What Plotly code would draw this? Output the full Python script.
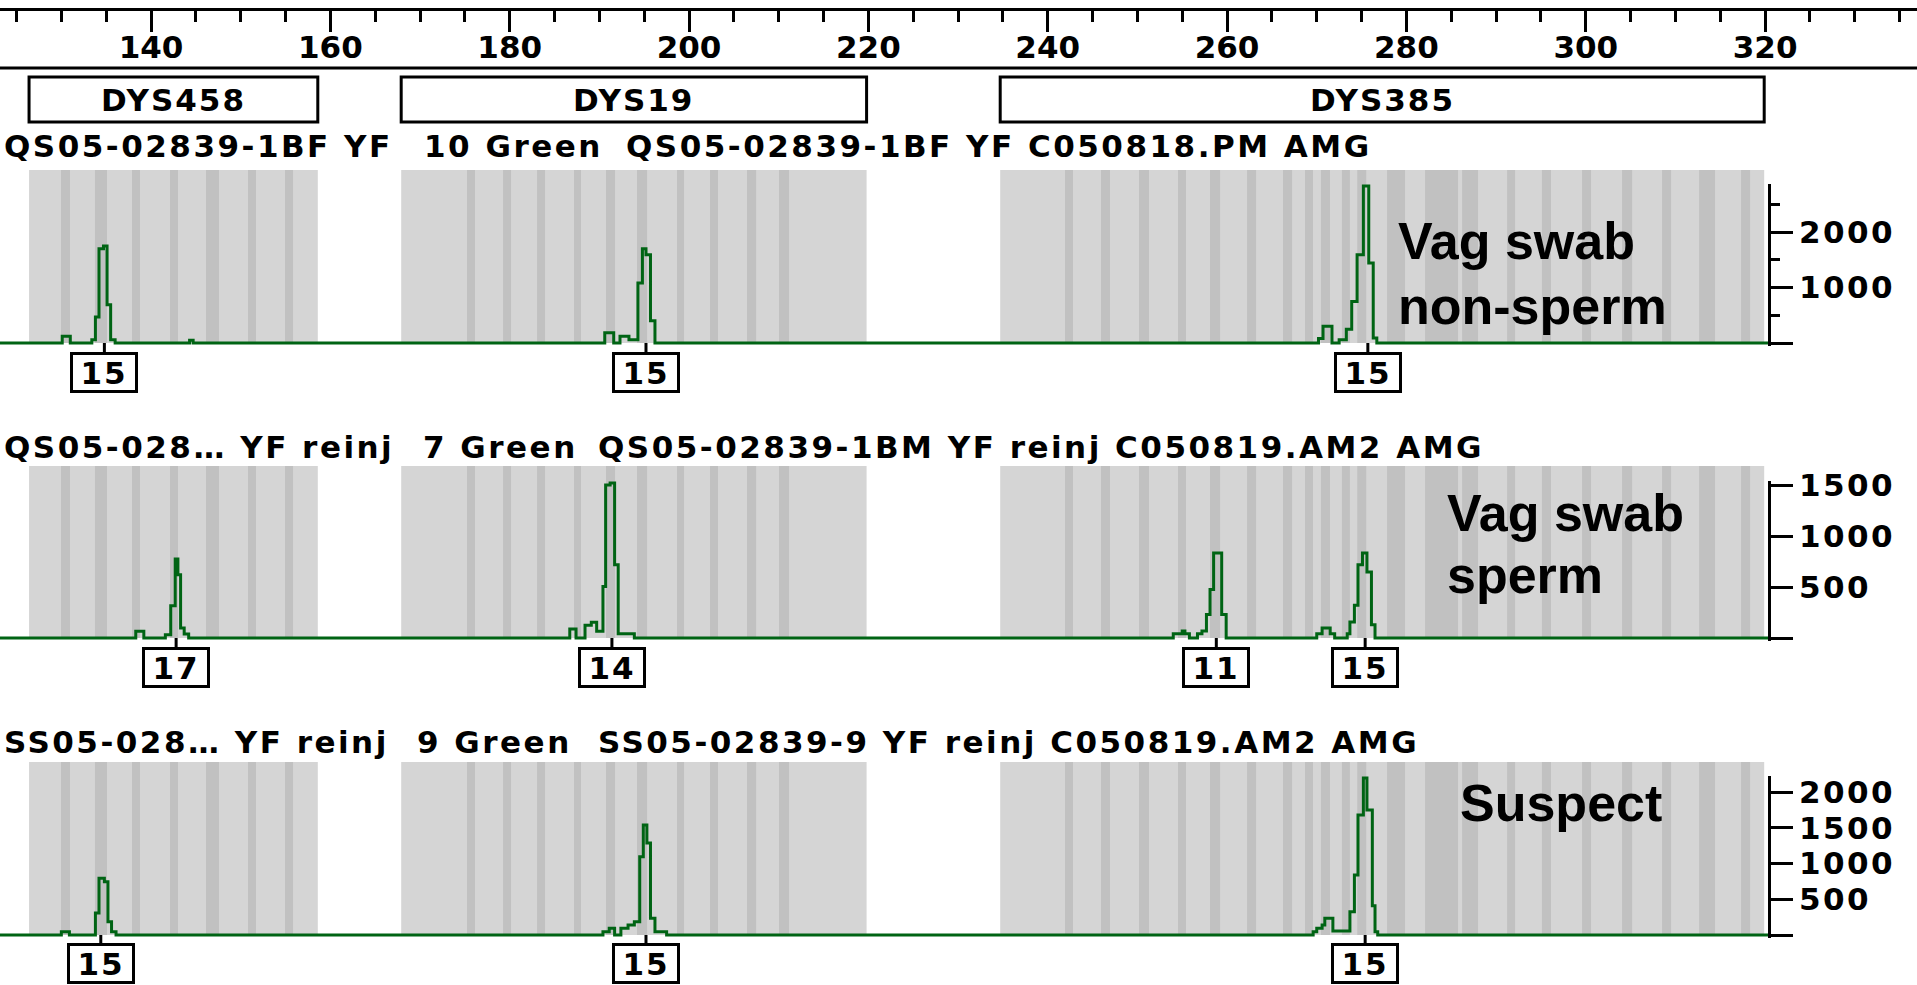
import plotly.graph_objects as go

W, H = 1917, 985

# ---------------- size scale (bp) ----------------
size_range = [123.16, 336.94]
size_major = 20
size_minor = 5
rfu_axis_bp = 320.4

# ---------------- loci ----------------
marker_names = ["DYS458", "DYS19", "DYS385"]
marker_from = [126.4, 167.9, 234.7]
marker_to = [158.6, 219.8, 319.9]

# allele bins (bp start, bp end)
bins_dys458 = [(129.96, 130.97), (133.75, 135.09), (137.88, 138.77), (142.12, 143.01),
               (146.13, 147.58), (150.82, 151.71), (154.94, 155.84)]
bins_dys19 = [(175.24, 176.13), (179.26, 180.15), (183.05, 183.94), (187.17, 187.95),
              (190.74, 191.75), (194.20, 195.32), (198.66, 199.44), (202.34, 203.23),
              (206.47, 207.48), (210.03, 211.15)]
bins_dys385 = [(241.93, 242.82), (245.94, 246.94), (250.18, 251.29), (254.53, 255.42),
               (258.10, 259.22), (262.23, 263.24), (266.24, 267.25), (268.69, 269.58),
               (270.47, 271.48), (272.81, 273.70), (274.52, 275.52), (277.84, 279.85),
               (282.08, 285.76), (286.21, 287.99), (291.23, 292.12), (295.11, 296.12),
               (299.59, 300.59), (304.05, 305.17), (308.51, 309.52), (312.64, 314.42),
               (317.32, 318.33)]

# ---------------- sample 1: vaginal swab, non-sperm fraction ----------------
s1_label = ["Vag swab", "non-sperm"]
s1_header = [("QS05-02839-1BF YF", 3), ("10 Green", 423),
             ("QS05-02839-1BF YF C050818.PM AMG", 625)]
s1_bp = [123.16, 129.9, 130.1, 131.0, 133.4, 133.8, 134.2, 134.7, 135.1, 135.5, 136.0, 144.3, 144.7,
         190.6, 191.6, 192.3, 193.3, 194.3, 194.8, 195.2, 195.7, 196.2,
         269.7, 270.2, 270.7, 271.7, 272.5, 273.3, 273.9, 274.5, 275.2, 275.8, 276.3, 276.7, 320.4]
s1_rfu = [0, 0, 120, 0, 60, 470, 1700, 1750, 690, 60, 0, 50, 0,
          185, 0, 120, 60, 1080, 1700, 1590, 400, 0,
          0, 80, 300, 0, 60, 250, 750, 1590, 2830, 1440, 90, 0, 0]
s1_call_bp = [134.8, 195.2, 275.7]
s1_call_allele = ["15", "15", "15"]
s1_ticks = [0, 1000, 2000]
s1_minor = [500, 1500, 2500]

# ---------------- sample 2: vaginal swab, sperm fraction ----------------
s2_label = ["Vag swab", "sperm"]
s2_header = [("QS05-028\u2026 YF reinj", 3), ("7 Green", 422),
             ("QS05-02839-1BM YF reinj C050819.AM2 AMG", 597)]
s2_bp = [123.16, 138.3, 139.2, 141.6, 142.2, 142.7, 143.0, 143.3, 143.7, 144.2,
         186.7, 187.4, 188.4, 189.1, 189.7, 190.4, 190.7, 191.2, 191.7, 192.1, 193.9,
         254.0, 255.0, 255.3, 255.8, 256.7, 257.2, 257.7, 258.1, 258.5, 259.4, 259.9,
         270.0, 270.6, 271.5, 272.0, 273.4, 273.7, 274.2, 274.6, 275.1, 275.6, 276.1, 276.5, 320.4]
s2_rfu = [0, 65, 0, 33, 317, 775, 620, 98, 40, 0,
          88, 0, 124, 154, 65, 506, 1500, 1520, 718, 42, 0,
          42, 69, 42, 0, 42, 69, 230, 475, 833, 230, 0,
          42, 98, 42, 0, 42, 157, 320, 718, 833, 647, 130, 0, 0]
s2_call_bp = [142.8, 191.4, 258.8, 275.4]
s2_call_allele = ["17", "14", "11", "15"]
s2_ticks = [0, 500, 1000, 1500]
s2_minor = []

# ---------------- sample 3: suspect reference ----------------
s3_label = ["Suspect"]
s3_header = [("SS05-028\u2026 YF reinj", 3), ("9 Green", 416),
             ("SS05-02839-9 YF reinj C050819.AM2 AMG", 597)]
s3_bp = [123.16, 130.0, 130.9, 133.8, 134.2, 134.8, 135.2, 135.6, 136.1,
         190.4, 191.1, 191.7, 192.4, 193.2, 193.9, 194.5, 194.9, 195.3, 195.7, 196.2, 197.5,
         269.6, 270.0, 270.6, 270.9, 271.8, 273.7, 274.2, 274.6, 275.2, 275.6, 276.2, 276.5, 276.8, 320.4]
s3_rfu = [0, 47, 0, 310, 795, 745, 187, 47, 0,
          47, 93, 0, 93, 140, 187, 1095, 1540, 1290, 233, 47, 0,
          47, 93, 140, 233, 56, 327, 840, 1680, 2200, 1750, 410, 47, 0, 0]
s3_call_bp = [134.4, 195.2, 275.4]
s3_call_allele = ["15", "15", "15"]
s3_ticks = [0, 500, 1000, 1500, 2000]
s3_minor = []

# ---------------- styling ----------------
GREEN = "#006414"
BIN_LIGHT = "#d5d5d5"
BIN_DARK = "#c1c1c1"
PIX_FONT = dict(family="DejaVu Sans", size=31, color="black", weight="bold")
LABEL_FONT = dict(family="Liberation Sans", size=52, color="black", weight="bold")


def spaced(s, px=2.0):
    """Bitmap-style wide lettering."""
    return f'<span style="letter-spacing:{px}px">{s}</span>'


# pixel geometry of each sample row
rows_px = [
    dict(header=146, bin_top=170, axis_top=186, base=343, box_top=352,
         label_x=1397, label_top=211, label_step=65),
    dict(header=447, bin_top=466, axis_top=483, base=638, box_top=647,
         label_x=1446, label_top=483, label_step=62),
    dict(header=742, bin_top=762, axis_top=778, base=935, box_top=943,
         label_x=1459, label_top=773, label_step=62),
]


def py(px):
    return 1 - px / H


samples = [
    (s1_bp, s1_rfu, s1_call_bp, s1_call_allele, s1_ticks, s1_minor, s1_header, s1_label),
    (s2_bp, s2_rfu, s2_call_bp, s2_call_allele, s2_ticks, s2_minor, s2_header, s2_label),
    (s3_bp, s3_rfu, s3_call_bp, s3_call_allele, s3_ticks, s3_minor, s3_header, s3_label),
]
all_bins = [bins_dys458, bins_dys19, bins_dys385]

axis_pos = (rfu_axis_bp - size_range[0]) / (size_range[1] - size_range[0])

fig = go.Figure()
shapes = []
annotations = []
layout_axes = {}

# top ruler rule
shapes.append(dict(type="line", xref="paper", yref="paper", x0=0, x1=1,
                   y0=py(68), y1=py(68), line=dict(color="black", width=3)))

# locus boxes
for name, a, b in zip(marker_names, marker_from, marker_to):
    shapes.append(dict(type="rect", xref="x", yref="paper", x0=a, x1=b,
                       y0=py(122), y1=py(77), line=dict(color="black", width=3)))
    annotations.append(dict(text=spaced(name), xref="x", yref="paper", x=(a + b) / 2,
                            y=py(99.5), xanchor="center", yanchor="middle", showarrow=False,
                            font=PIX_FONT))

for i, (bp, rfu, call_bp, call_al, ticks, minor, header, label) in enumerate(samples):
    g = rows_px[i]
    yname = "y" if i == 0 else f"y{i + 1}"
    ykey = "yaxis" if i == 0 else f"yaxis{i + 1}"
    ymax = max(rfu)
    k = ymax / (g["base"] - g["axis_top"])

    # bin panels behind the trace
    for a, b, bins in zip(marker_from, marker_to, all_bins):
        shapes.append(dict(type="rect", xref="x", yref="paper", x0=a, x1=b,
                           y0=py(g["base"]), y1=py(g["bin_top"]), fillcolor=BIN_LIGHT,
                           line=dict(width=0), layer="below"))
        for b0, b1 in bins:
            shapes.append(dict(type="rect", xref="x", yref="paper", x0=b0, x1=b1,
                               y0=py(g["base"]), y1=py(g["bin_top"]), fillcolor=BIN_DARK,
                               line=dict(width=0), layer="below"))

    fig.add_trace(go.Scatter(x=bp, y=rfu, mode="lines", xaxis="x", yaxis=yname,
                             line=dict(color=GREEN, width=3, shape="hv"),
                             hoverinfo="skip", showlegend=False))

    yax = dict(domain=[py(g["base"] + 3), py(g["axis_top"] - 2)],
               range=[-3 * k, ymax + 2 * k], anchor="free", position=axis_pos,
               side="right", showgrid=False, zeroline=False, showline=True,
               automargin=False,
               linecolor="black", linewidth=3, ticks="outside", ticklen=22, tickwidth=3,
               tickcolor="black", tickvals=ticks,
               ticktext=["" if v == 0 else spaced(v, 2.5) for v in ticks], tickfont=PIX_FONT)
    if minor:
        yax["minor"] = dict(tickvals=minor, ticks="outside", ticklen=9, tickwidth=3,
                            tickcolor="black", showgrid=False)
    layout_axes[ykey] = yax

    # allele calls
    for cb, al in zip(call_bp, call_al):
        shapes.append(dict(type="line", xref="x", yref="paper", x0=cb, x1=cb,
                           y0=py(g["base"]), y1=py(g["box_top"]),
                           line=dict(color="black", width=3)))
        annotations.append(dict(text=spaced(al), xref="x", yref="paper", x=cb,
                                y=py(g["box_top"]), xanchor="center", yanchor="top",
                                showarrow=False, width=62, height=35, borderwidth=3,
                                borderpad=0, bordercolor="black", bgcolor="white",
                                font=PIX_FONT))

    # run header
    for words, xpx in header:
        annotations.append(dict(text=spaced(words, 2.5), xref="paper", yref="paper",
                                x=xpx / W, y=py(g["header"]), xanchor="left",
                                yanchor="middle", showarrow=False, font=PIX_FONT,
                                borderpad=0))

    # sample name, one annotation per line
    for j, line in enumerate(label):
        annotations.append(dict(text=line, xref="paper", yref="paper", x=g["label_x"] / W,
                                y=py(g["label_top"] + j * g["label_step"]), xanchor="left",
                                yanchor="top", align="left", showarrow=False,
                                font=LABEL_FONT, borderpad=0))

# ruler: a thin strip whose bottom edge carries the bp axis
fig.add_trace(go.Scatter(x=[], y=[], xaxis="x", yaxis="y4", showlegend=False,
                         hoverinfo="skip"))
layout_axes["yaxis4"] = dict(domain=[py(7.5), 1], visible=False, anchor="x",
                             automargin=False)

fig.update_layout(
    width=W, height=H,
    margin=dict(l=0, r=0, t=0, b=0, autoexpand=False),
    paper_bgcolor="white", plot_bgcolor="rgba(0,0,0,0)",
    showlegend=False,
    xaxis=dict(range=size_range, domain=[0, 1], anchor="y4", automargin=False,
               side="bottom", showline=True, linecolor="black", linewidth=3,
               ticks="outside", ticklen=21, tickwidth=3, tickcolor="black",
               tick0=0, dtick=size_major, tickfont=PIX_FONT, showgrid=False, zeroline=False,
               ticklabelstandoff=-11,
               minor=dict(tick0=0, dtick=size_minor, ticks="outside", ticklen=11,
                          tickwidth=3, tickcolor="black", showgrid=False)),
    shapes=shapes,
    annotations=annotations,
    **layout_axes,
)

fig.write_html("out.html")
